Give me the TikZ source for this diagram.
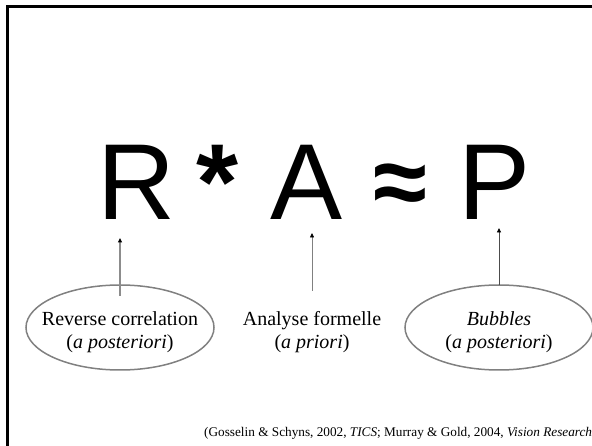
\documentclass[tikz,border=0pt]{standalone}
\usepackage{fontspec}
\setmainfont{Liberation Serif}
\newfontfamily\arialf{Liberation Sans}
\usetikzlibrary{arrows.meta,shapes.geometric}
\begin{document}
\begin{tikzpicture}[x=1pt,y=-1pt,
  bigsym/.style={font=\arialf\fontsize{108}{108}\selectfont, anchor=base, inner sep=0pt},
  boldsym/.style={font=\arialf\bfseries\fontsize{108}{108}\selectfont, anchor=base, inner sep=0pt},
  lbl/.style={font=\fontsize{20}{23}\selectfont, align=center, inner sep=0pt},
  oval/.style={ellipse, draw=black!50, line width=1.5pt, minimum width=188pt, minimum height=85pt, inner sep=0pt},
  ptr/.style={-{Triangle[length=4.5pt,width=4pt,color=black]}},
  cite/.style={font=\fontsize{13.25}{15}\selectfont, anchor=base west, inner sep=0pt}
]
\useasboundingbox (0,0) rectangle (592,446);
\clip (0,0) rectangle (592,446);
% slide frame
\draw[line width=2.6pt] (7.3,470) -- (7.3,6.3) -- (620,6.3);
% equation
\node[bigsym] (R) at (136,220) {R};
\node[boldsym] (star) at (218,220) {*};
\node[bigsym] (A) at (307,220) {A};
\node[boldsym, font=\arialf\bfseries\fontsize{98}{98}\selectfont] (approx) at (400,216) {≈};
\node[bigsym] (P) at (495,220) {P};
% ellipses and labels
\node[oval] (ovalL) at (120,327.5) {};
\node[oval] (ovalR) at (499,327.5) {};
\node[lbl] (revcorr) at (120,331.7) {Reverse correlation\\(\textit{a posteriori})};
\node[lbl] (analyse) at (312,331.7) {Analyse formelle\\(\textit{a priori})};
\node[lbl] (bubbles) at (499,331.7) {\textit{Bubbles}\\(\textit{a posteriori})};
% arrow end points
\coordinate (rfoot) at (120,296);
\coordinate (rtip) at (120,238);
\coordinate (afoot) at (312,291);
\coordinate (atip) at (312,233);
\coordinate (pfoot) at (499,285);
\coordinate (ptip) at (499,228);
\draw[ptr, draw=black!45, line width=1.1pt] (rfoot) -- (rtip);
\draw[ptr, draw=black!50, line width=0.7pt] (afoot) -- (atip);
\draw[ptr, draw=black!70, line width=0.9pt] (pfoot) -- (ptip);
% citation
\node[cite] (citation) at (204,436) {(Gosselin \& Schyns, 2002, \textit{TICS}; Murray \& Gold, 2004, \textit{Vision Research})};
\end{tikzpicture}
\end{document}
